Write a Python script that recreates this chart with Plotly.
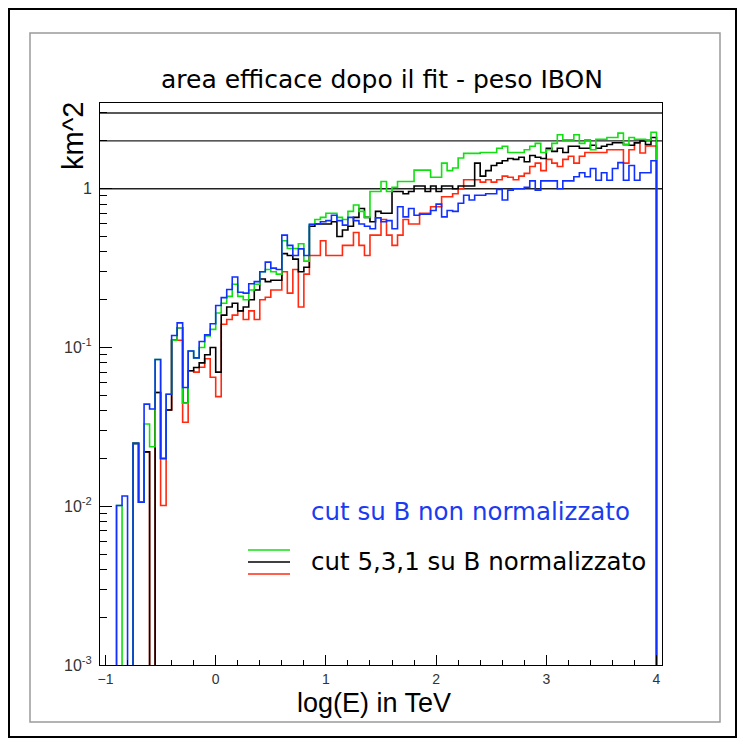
import numpy as np
import plotly.graph_objects as go

# ---------------- data (bin contents, bins of 0.05 in log(E), first bin starts at -1.0) -------------
bin_width = 0.05
first_edge = -1.0

blue = [
    0, 0, 0.0101, 0.0116, 0, 0.0249, 0.0106, 0.044, 0.041, 0.084,          # -1.00 .. -0.55
    0.020, 0.0507, 0.119, 0.143, 0.056, 0.095, 0.086, 0.109, 0.120, 0.141, # -0.50 .. -0.05
    0.184, 0.206, 0.232, 0.278, 0.223, 0.22, 0.252, 0.26, 0.30, 0.345,     #  0.00 ..  0.45
    0.316, 0.31, 0.51, 0.44, 0.38, 0.418, 0.38, 0.595, 0.60, 0.62,         #  0.50 ..  0.95
    0.63, 0.68, 0.63, 0.59, 0.66, 0.63, 0.60, 0.58, 0.56, 0.655,           #  1.00 ..  1.45
    0.62, 0.63, 0.56, 0.77, 0.665, 0.75, 0.68, 0.69, 0.69, 0.73,           #  1.50 ..  1.95
    0.80, 0.665, 0.73, 0.72, 0.81, 0.91, 0.85, 0.91, 0.91, 0.93,           #  2.00 ..  2.45
    0.93, 0.99, 0.85, 0.98, 1.0, 1.0, 1.02, 1.12, 0.98, 1.12,              #  2.50 ..  2.95
    1.12, 1.12, 1.0, 1.12, 1.12, 1.19, 1.26, 1.19, 1.34, 1.13,             #  3.00 ..  3.45
    1.26, 1.13, 1.34, 1.46, 1.13, 1.40, 1.13, 1.26, 1.26, 1.5,             #  3.50 ..  3.95
]
green = [
    0, 0, 0.0101, 0, 0, 0.0249, 0.0106, 0.033, 0.0237, 0.084,
    0.020, 0.0507, 0.111, 0.133, 0.0446, 0.095, 0.086, 0.100, 0.118, 0.130,
    0.165, 0.19, 0.21, 0.25, 0.21, 0.20, 0.23, 0.25, 0.30, 0.31,
    0.30, 0.29, 0.47, 0.42, 0.42, 0.45, 0.35, 0.60, 0.64, 0.66,
    0.70, 0.70, 0.66, 0.64, 0.72, 0.79, 0.72, 0.66, 0.96, 0.96,
    1.11, 0.96, 1.02, 1.11, 1.11, 1.11, 1.31, 1.31, 1.31, 1.18,
    1.18, 1.45, 1.30, 1.35, 1.56, 1.67, 1.67, 1.67, 1.69, 1.69,
    1.69, 1.80, 1.85, 1.69, 1.69, 1.69, 1.76, 1.85, 1.93, 1.69,
    1.76, 1.93, 2.19, 2.03, 2.03, 2.19, 1.93, 2.03, 1.76, 2.05,
    2.05, 2.10, 2.10, 2.24, 1.89, 2.10, 2.05, 2.05, 2.03, 2.27,
]
black = [
    0, 0, 0, 0, 0, 0.0249, 0.0106, 0.022, 0, 0.052,
    0.020, 0.0404, 0.111, 0.133, 0.0446, 0.0713, 0.0748, 0.080, 0.090, 0.100,
    0.070, 0.16, 0.18, 0.19, 0.17, 0.18, 0.20, 0.23, 0.27, 0.26,
    0.265, 0.265, 0.39, 0.38, 0.36, 0.30, 0.32, 0.58, 0.60, 0.60,
    0.60, 0.62, 0.50, 0.55, 0.58, 0.66, 0.75, 0.66, 0.62, 0.72,
    0.70, 0.70, 0.96, 0.96, 0.93, 0.96, 1.04, 1.04, 0.96, 1.04,
    0.96, 1.04, 1.04, 1.00, 1.04, 1.04, 1.04, 1.45, 1.20, 1.30,
    1.40, 1.45, 1.50, 1.55, 1.53, 1.58, 1.48, 1.62, 1.58, 1.55,
    1.80, 1.72, 1.80, 1.69, 1.85, 1.85, 1.80, 1.80, 1.88, 1.80,
    1.85, 1.90, 1.95, 1.95, 1.90, 1.88, 1.95, 2.00, 1.90, 2.10,
]
red = [
    0, 0, 0, 0, 0, 0.0249, 0.0106, 0.022, 0, 0.052,
    0.0101, 0.0404, 0.111, 0.111, 0.0338, 0.0713, 0.070, 0.075, 0.085, 0.065,
    0.049, 0.14, 0.15, 0.16, 0.17, 0.15, 0.17, 0.15, 0.20, 0.207,
    0.23, 0.23, 0.30, 0.22, 0.31, 0.18, 0.29, 0.38, 0.38, 0.47,
    0.38, 0.38, 0.38, 0.44, 0.44, 0.53, 0.44, 0.38, 0.51, 0.51,
    0.64, 0.51, 0.44, 0.51, 0.64, 0.60, 0.60, 0.70, 0.70, 0.77,
    0.77, 0.89, 0.89, 0.93, 1.00, 1.14, 1.14, 1.14, 1.10, 1.14,
    1.10, 1.14, 1.20, 1.18, 1.14, 1.20, 1.25, 1.38, 1.45, 1.30,
    1.53, 1.45, 1.38, 1.53, 1.60, 1.45, 1.60, 1.69, 1.69, 1.69,
    1.69, 1.76, 1.76, 1.76, 1.45, 1.76, 1.94, 1.68, 1.86, 1.86,
]

ref_levels = [1, 2, 3]
x_range = [-1.05, 4.05]
y_log_range = [-3, 0.54]
y_tickvals = [1e-3, 1e-2, 1e-1, 1]
y_ticktext = ["10<sup>-3</sup>", "10<sup>-2</sup>", "10<sup>-1</sup>", "1"]
y_minor = [m * 10.0 ** d for d in range(-3, 1) for m in range(2, 10) if m * 10.0 ** d < 3.4]

title_text = "area efficace dopo il fit - peso IBON"
x_title = "log(E) in TeV"
y_title = "km^2"
label_blue = "cut su B non normalizzato"
label_others = "cut 5,3,1 su B normalizzato"

colors = {"red": "#ff2a10", "black": "#000000", "green": "#10e010", "blue": "#1030ff"}

# ---------------- figure -------------
W, H = 743, 754
L, R, T, B = 100, 81, 103, 89
PW, PH = W - L - R, H - T - B


def px(xp):
    return (xp - L) / PW


def py(yp):
    return (H - B - yp) / PH


edges = first_edge + bin_width * np.arange(len(blue) + 1)
FLOOR = 1e-6


def step_xy(vals):
    v = np.asarray(vals, float)
    y = np.where(v > 0, v, FLOOR)
    return edges, np.append(y, FLOOR)


fig = go.Figure()

for lvl in ref_levels:
    fig.add_trace(go.Scatter(x=x_range, y=[lvl, lvl], mode="lines",
                             line=dict(color="#222222", width=1.3),
                             hoverinfo="skip", showlegend=False))

for name, vals in [("red", red), ("black", black), ("green", green), ("blue", blue)]:
    xs, ys = step_xy(vals)
    fig.add_trace(go.Scatter(x=xs, y=ys, mode="lines", line_shape="hv",
                             line=dict(color=colors[name], width=1.6),
                             name=name, showlegend=False))

tickfont = dict(family="Liberation Sans, Arial, sans-serif", size=14, color="#333333")
ytickfont = dict(family="Liberation Sans, Arial, sans-serif", size=16, color="#333333")

fig.update_xaxes(range=x_range, showgrid=False, zeroline=False,
                 showline=True, linecolor="black", linewidth=1, mirror=True,
                 tickmode="linear", tick0=0, dtick=1,
                 ticks="inside", ticklen=10, tickcolor="black", tickwidth=1,
                 minor=dict(ticks="inside", dtick=0.2, tick0=0, ticklen=5,
                            tickcolor="black", showgrid=False),
                 tickfont=tickfont, ticklabelstandoff=1)

fig.update_yaxes(type="log", range=y_log_range, showgrid=False, zeroline=False,
                 showline=True, linecolor="black", linewidth=1, mirror=True,
                 tickmode="array", tickvals=y_tickvals, ticktext=y_ticktext,
                 ticks="inside", ticklen=12, tickcolor="black", tickwidth=1,
                 minor=dict(ticks="inside", tickmode="array", tickvals=y_minor,
                            ticklen=7, tickcolor="black", showgrid=False),
                 tickfont=ytickfont, ticklabelstandoff=4)

shapes = [
    # outer frame
    dict(type="rect", xref="paper", yref="paper", x0=px(9), x1=px(736), y0=py(737), y1=py(9),
         line=dict(color="black", width=2)),
    # inner pad frame
    dict(type="rect", xref="paper", yref="paper", x0=px(30), x1=px(720), y0=py(722), y1=py(33),
         line=dict(color="#9a9a9a", width=1.5)),
    # legend line samples
    dict(type="line", xref="paper", yref="paper", x0=px(248), x1=px(290), y0=py(550), y1=py(550),
         line=dict(color=colors["green"], width=1.5)),
    dict(type="line", xref="paper", yref="paper", x0=px(248), x1=px(290), y0=py(562), y1=py(562),
         line=dict(color=colors["black"], width=1.5)),
    dict(type="line", xref="paper", yref="paper", x0=px(248), x1=px(290), y0=py(574), y1=py(574),
         line=dict(color=colors["red"], width=1.5)),
]

annotations = [
    dict(text=title_text, x=px(382), y=py(80), xref="paper", yref="paper", showarrow=False,
         xanchor="center", yanchor="middle",
         font=dict(family="DejaVu Sans, Verdana, sans-serif", size=25, color="black")),
    dict(text=y_title, x=px(73), y=py(136), xref="paper", yref="paper", showarrow=False,
         xanchor="center", yanchor="middle", textangle=-90,
         font=dict(family="Liberation Sans, Arial, sans-serif", size=29, color="black")),
    dict(text=x_title, x=px(374), y=py(703), xref="paper", yref="paper", showarrow=False,
         xanchor="center", yanchor="middle",
         font=dict(family="Liberation Sans, Arial, sans-serif", size=27, color="black")),
    dict(text=label_blue, x=px(470), y=py(511), xref="paper", yref="paper", showarrow=False,
         xanchor="center", yanchor="middle",
         font=dict(family="DejaVu Sans, Verdana, sans-serif", size=24.5, color="#1a3cf0")),
    dict(text=label_others, x=px(478), y=py(561), xref="paper", yref="paper", showarrow=False,
         xanchor="center", yanchor="middle",
         font=dict(family="DejaVu Sans, Verdana, sans-serif", size=24.5, color="black")),
]

fig.update_layout(width=W, height=H, margin=dict(l=L, r=R, t=T, b=B, pad=0),
                  paper_bgcolor="white", plot_bgcolor="white",
                  showlegend=False, shapes=shapes, annotations=annotations)

fig.write_html("out.html")
